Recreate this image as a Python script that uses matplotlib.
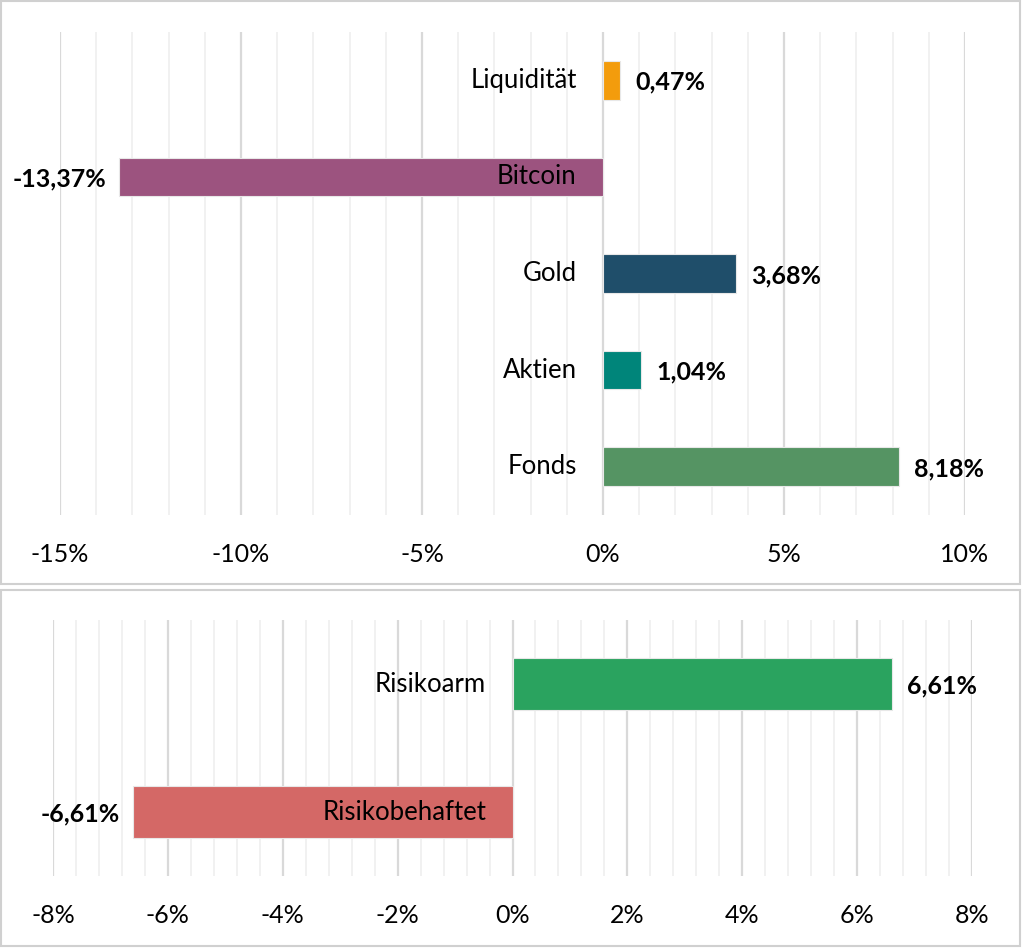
import matplotlib.pyplot as plt
from matplotlib.patches import Rectangle
from matplotlib.ticker import MultipleLocator, FuncFormatter

# top panel: asset classes
assets = ['Liquidität', 'Bitcoin', 'Gold', 'Aktien', 'Fonds']
asset_values = [0.47, -13.37, 3.68, 1.04, 8.18]
asset_colors = ['#F39C0C', '#9C537F', '#1F4E6A', '#00857A', '#559463']

# bottom panel: risk groups
risks = ['Risikoarm', 'Risikobehaftet']
risk_values = [6.61, -6.61]
risk_colors = ['#2AA35F', '#D46866']

plt.rcParams['font.family'] = ['Lato', 'DejaVu Sans']

W, H = 1024, 948
fig = plt.figure(figsize=(W / 100, H / 100), dpi=100)


def fx(px):
    return px / W


def fy(py):
    return 1 - py / H


# panel frames
for (y0, y1) in [(1, 584), (590, 946)]:
    fig.patches.append(Rectangle((fx(1), fy(y1)), fx(1019), (y1 - y0) / H,
                                 transform=fig.transFigure, fill=False,
                                 edgecolor='#d0d0d0', lw=1.5))


def pct(v, pos=None):
    return f"{v:.0f}%"


def draw(ax, cats, vals, colors, xmin, xmax, major, minor):
    n = len(cats)
    ypos = list(range(n))
    ax.barh(ypos, vals, height=0.4, color=colors, edgecolor='#e8e8e8',
            lw=0.8, zorder=3)
    ax.set_ylim(n - 0.5, -0.5)
    ax.set_xlim(xmin, xmax)
    ax.xaxis.set_major_locator(MultipleLocator(major))
    ax.xaxis.set_minor_locator(MultipleLocator(minor))
    ax.xaxis.set_major_formatter(FuncFormatter(pct))
    ax.grid(axis='x', which='major', color='#d9d9d9', lw=1.6, zorder=0)
    ax.grid(axis='x', which='minor', color='#efefef', lw=1.2, zorder=0)
    ax.set_yticks([])
    for s in ax.spines.values():
        s.set_visible(False)
    ax.tick_params(axis='x', which='both', length=0, labelsize=18, pad=20)
    for y, c, v in zip(ypos, cats, vals):
        # category name just left of zero
        ax.annotate(c, (0, y), xytext=(-19, 0), textcoords='offset points',
                    ha='right', va='center', fontsize=18.5, zorder=4)
        lab = f"{v:.2f}%".replace('.', ',')
        if v >= 0:
            ax.annotate(lab, (v, y), xytext=(11, -1.5),
                        textcoords='offset points', ha='left', va='center',
                        fontsize=18, fontweight='bold', zorder=4)
        else:
            ax.annotate(lab, (v, y), xytext=(-9, -1.5),
                        textcoords='offset points', ha='right', va='center',
                        fontsize=18, fontweight='bold', zorder=4)


ax1 = fig.add_axes([fx(60), fy(515), fx(905), (515 - 32) / H])
draw(ax1, assets, asset_values, asset_colors, -15, 10, 5, 1)

ax2 = fig.add_axes([fx(53), fy(876), fx(919), (876 - 620) / H])
draw(ax2, risks, risk_values, risk_colors, -8, 8, 2, 0.4)

fig.savefig('out.png', dpi=100)
